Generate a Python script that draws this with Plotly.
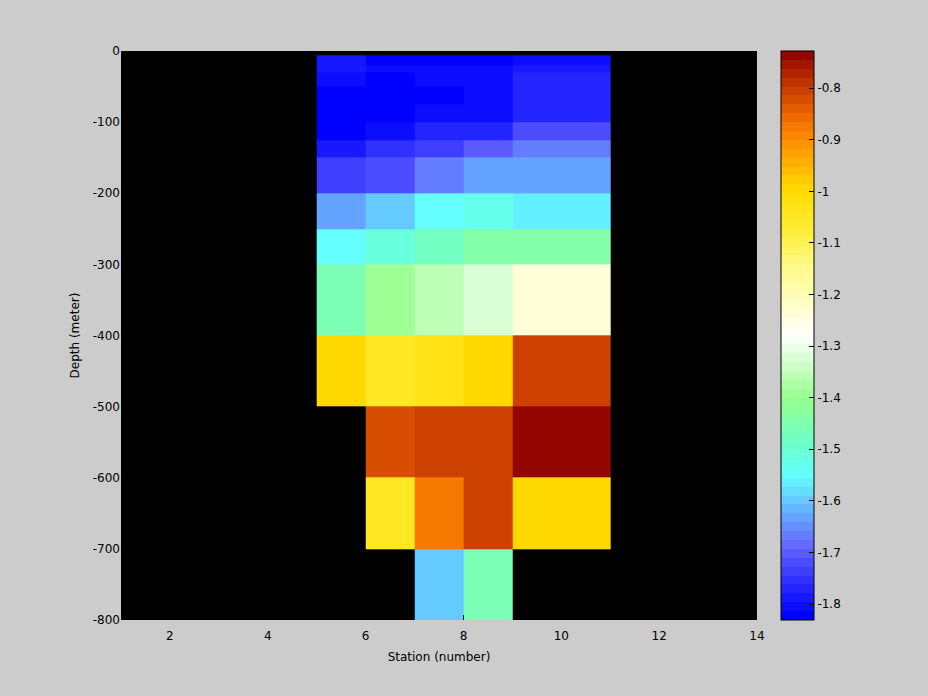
import numpy as np
import plotly.graph_objects as go

# ---------------- data ----------------
station_edges = [5, 6, 7, 8, 9, 11]
depth_edges = [-6, -20, -30, -50, -75, -100, -125, -150, -200, -250,
               -300, -400, -500, -600, -700, -800]
nan = None
values = [
    [-1.788, -1.822, -1.822, -1.822, -1.805],
    [-1.788, -1.805, -1.805, -1.805, -1.788],
    [-1.805, -1.822, -1.805, -1.805, -1.771],
    [-1.822, -1.822, -1.822, -1.805, -1.771],
    [-1.822, -1.822, -1.805, -1.805, -1.771],
    [-1.822, -1.805, -1.771, -1.771, -1.719],
    [-1.788, -1.753, -1.736, -1.702, -1.670],
    [-1.736, -1.719, -1.670, -1.636, -1.636],
    [-1.636, -1.600, -1.550, -1.530, -1.565],
    [-1.550, -1.515, -1.470, -1.440, -1.440],
    [-1.460, -1.390, -1.360, -1.320, -1.240],
    [-0.995, -1.050, -1.030, -0.990, -0.806],
    [nan, -0.821, -0.806, -0.806, -0.740],
    [nan, -1.045, -0.879, -0.806, -0.995],
    [nan, nan, -1.600, -1.460, nan],
]
zmin, zmax = -1.831, -0.728
cbar_ticks = [-0.8, -0.9, -1.0, -1.1, -1.2, -1.3, -1.4, -1.5, -1.6, -1.7, -1.8]
cbar_ticktext = ["-0.8", "-0.9", "-1", "-1.1", "-1.2", "-1.3", "-1.4",
                 "-1.5", "-1.6", "-1.7", "-1.8"]
x_ticks = [2, 4, 6, 8, 10, 12, 14]
y_ticks = [0, -100, -200, -300, -400, -500, -600, -700, -800]

# ---------------- colormap (64 discrete levels) ----------------
anchor_v = [-1.8224, -1.7535, -1.7018, -1.685, -1.60, -1.55, -1.50, -1.40,
            -1.35, -1.28, -1.22, -1.15, -1.08, -1.00, -0.90, -0.85, -0.80,
            -0.728]
anchor_c = [(0, 0, 255), (48, 48, 255), (90, 90, 255), (100, 105, 255),
            (100, 200, 255), (100, 255, 255), (105, 255, 210), (150, 255, 140),
            (195, 255, 190), (255, 255, 255), (255, 255, 200), (255, 250, 140),
            (255, 238, 60), (255, 220, 0), (255, 140, 0), (235, 100, 0),
            (200, 60, 0), (140, 0, 0)]
N = 64
av = np.array(anchor_v)
ac = np.array(anchor_c, dtype=float)
colorscale = []
for i in range(N):
    v = zmin + (i + 0.5) * (zmax - zmin) / N
    rgb = [int(round(np.interp(v, av, ac[:, k]))) for k in range(3)]
    col = "rgb(%d,%d,%d)" % tuple(rgb)
    colorscale.append([i / N, col])
    colorscale.append([(i + 1) / N, col])

z = [[np.nan if v is None else v for v in row] for row in values]

W, H = 928, 696
L, R, T, B = 121, 171, 51, 76
pw = W - L - R
ph = H - T - B
FONT = "DejaVu Sans"

fig = go.Figure()
fig.add_trace(go.Heatmap(
    x=station_edges, y=depth_edges, z=z,
    zmin=zmin, zmax=zmax, colorscale=colorscale,
    hoverongaps=False,
    colorbar=dict(
        x=(781 - L) / pw, xanchor="left", xpad=0,
        y=1, yanchor="top", len=1, lenmode="fraction", ypad=0,
        thickness=33, thicknessmode="pixels",
        outlinewidth=1, outlinecolor="black",
        tickvals=cbar_ticks, ticktext=cbar_ticktext,
        ticks="inside", ticklen=5, tickcolor="black", tickwidth=1,
        tickfont=dict(family=FONT, size=12, color="black"),
    ),
))

# left-edge ticks of colorbar (MATLAB style)
bar_x0 = (781 - L) / pw
for tv in cbar_ticks:
    yp = (tv - zmin) / (zmax - zmin)
    fig.add_shape(type="line", xref="paper", yref="paper",
                  x0=bar_x0, x1=bar_x0 + 5 / pw, y0=yp, y1=yp,
                  line=dict(color="black", width=1))

fig.update_layout(
    width=W, height=H,
    margin=dict(l=L, r=R, t=T, b=B, pad=0),
    paper_bgcolor="#cccccc", plot_bgcolor="black",
    font=dict(family=FONT, size=12, color="black"),
    showlegend=False,
    xaxis=dict(range=[1, 14], tickvals=x_ticks,
               ticktext=[str(t) for t in x_ticks],
               ticks="inside", ticklen=5, tickcolor="black",
               ticklabelstandoff=7,
               showgrid=False, zeroline=False, showline=False,
               title=dict(text="Station (number)", standoff=10,
                          font=dict(family=FONT, size=12)),
               tickfont=dict(family=FONT, size=12)),
    yaxis=dict(range=[-800, 0], tickvals=y_ticks,
               ticktext=[str(t) for t in y_ticks],
               ticks="inside", ticklen=5, tickcolor="black",
               showgrid=False, zeroline=False, showline=False,
               title=dict(text="Depth (meter)", standoff=10,
                          font=dict(family=FONT, size=12)),
               tickfont=dict(family=FONT, size=12)),
)

fig.write_html(
    "out.html",
    config={"displayModeBar": False},
    post_script="document.body.style.margin='0';"
                "document.body.style.background='#cccccc';",
)
